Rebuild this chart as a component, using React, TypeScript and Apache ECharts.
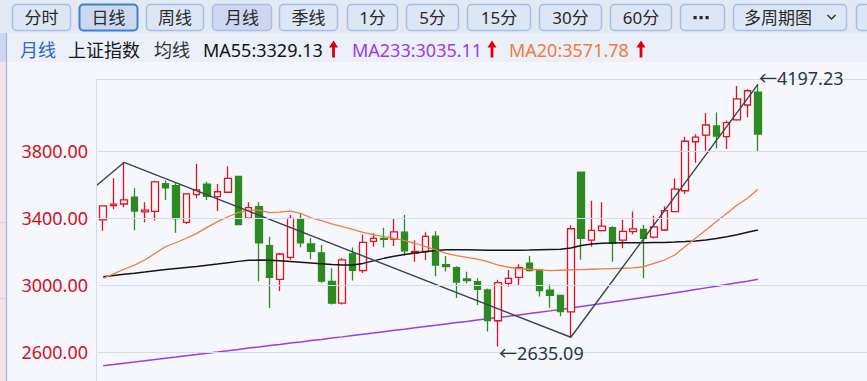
import React, { useEffect, useRef } from 'react';
import * as echarts from 'echarts';

// ---------- data ----------
const months = [
  '2020-12',
  '2021-01','2021-02','2021-03','2021-04','2021-05','2021-06','2021-07','2021-08','2021-09','2021-10','2021-11','2021-12',
  '2022-01','2022-02','2022-03','2022-04','2022-05','2022-06','2022-07','2022-08','2022-09','2022-10','2022-11','2022-12',
  '2023-01','2023-02','2023-03','2023-04','2023-05','2023-06','2023-07','2023-08','2023-09','2023-10','2023-11','2023-12',
  '2024-01','2024-02','2024-03','2024-04','2024-05','2024-06','2024-07','2024-08','2024-09','2024-10','2024-11','2024-12',
  '2025-01','2025-02','2025-03','2025-04','2025-05','2025-06','2025-07','2025-08','2025-09','2025-10','2025-11','2025-12',
  '2026-01','2026-02','2026-03',
];
const opens = [
  3389,
  3474, 3484, 3525, 3437, 3440, 3605, 3593, 3375, 3540, 3603, 3528, 3554,
  3649, 3399, 3468, 3235, 3035, 3166, 3395, 3246, 3193, 3022, 2893, 3186,
  3087, 3261, 3279, 3275, 3316, 3192, 3201, 3292, 3122, 3104, 3037, 3021,
  2972, 2788, 3011, 3047, 3131, 3091, 2971, 2939, 2841, 3674.4, 3269, 3325,
  3343, 3269, 3319, 3333, 3286, 3329, 3438, 3563, 3855, 3895, 3949, 3885,
  3985, 4074, 4150,
];
const closes = [
  3473,
  3483, 3509, 3441.9, 3446.9, 3615.5, 3580, 3397, 3544, 3568, 3530, 3557, 3637,
  3361.4, 3462, 3252, 3047, 3186, 3398.6, 3253, 3202, 3024, 2893, 3151, 3089,
  3255.7, 3279.6, 3272.9, 3318, 3204.6, 3202, 3291, 3119.9, 3110.5, 3018.8, 3027, 2974.9,
  2788.6, 3015.2, 3041.2, 3104.8, 3086.8, 2967.4, 2938.8, 2842.2, 3336.5, 3279.8, 3326.5, 3351.8,
  3250.6, 3320.9, 3335.8, 3279, 3347.5, 3444.4, 3573.2, 3857.9, 3882.8, 3954.8, 3888.6, 3968.8,
  4110, 4159, 3901,
];
const lows = [
  3325,
  3452, 3465, 3328, 3375, 3385, 3508, 3312, 3365, 3518, 3508, 3442, 3550,
  3357, 3393, 3023, 2863.7, 2965, 3152, 3226, 3155, 3015, 2885, 2885, 3028,
  3073, 3229, 3224, 3234, 3177, 3140, 3150, 3053, 3081, 2923.5, 3011, 2882,
  2724, 2635.09, 2991, 3001, 3081, 2933, 2865, 2815, 2689.7, 3152, 3229, 3320,
  3140, 3220, 3303, 3040.7, 3279, 3323, 3435, 3543, 3730, 3802, 3815, 3812,
  3980, 4001, 3796,
];
const highs = [
  3474,
  3637, 3731.69, 3578, 3494, 3622, 3624, 3607, 3550, 3723, 3617, 3603, 3708.9,
  3651, 3494, 3494, 3289, 3194, 3418, 3424, 3280, 3240, 3101, 3160, 3224,
  3300, 3309, 3343, 3399, 3418, 3268, 3315, 3322, 3174, 3113, 3080, 3041,
  2981, 3031, 3090, 3125, 3174.3, 3095, 3006, 2942, 3358, 3674.4, 3504, 3494,
  3352, 3389, 3439, 3361, 3414, 3470, 3636, 3885, 3899, 4025.7, 4030, 3981,
  4187, 4168, 4197.23,
];
const ma20 = [
  3041, 3067, 3095, 3120, 3150, 3190, 3230, 3253, 3280, 3309, 3345, 3379, 3408,
  3432, 3448, 3448, 3432, 3435, 3442, 3428, 3402, 3385, 3365, 3349, 3333,
  3315, 3301, 3289, 3279, 3265, 3250, 3230, 3210, 3190, 3176, 3166, 3156,
  3140, 3120, 3107, 3098, 3095, 3091, 3087, 3089, 3091, 3093, 3095, 3097,
  3099, 3101, 3103, 3110, 3130, 3150, 3180, 3230, 3280, 3329, 3379, 3428,
  3478, 3518, 3571.78,
];
const ma55 = [
  3051, 3058, 3065, 3071, 3078, 3086, 3094, 3100, 3106, 3112, 3119, 3126, 3134,
  3142, 3148, 3150, 3148, 3145, 3141, 3137, 3133, 3128, 3123, 3120, 3121,
  3130, 3145, 3160, 3173, 3183, 3192, 3200, 3207, 3211, 3212, 3211, 3210,
  3209, 3208, 3208, 3209, 3210, 3212, 3213, 3214, 3222, 3236, 3245, 3250,
  3252, 3253, 3253, 3253, 3254, 3255, 3257, 3260, 3264, 3270, 3278, 3289,
  3301, 3315, 3329.13,
];
const ma233 = [
  2520, 2527, 2535, 2542, 2550, 2557, 2565, 2572, 2580, 2587, 2595, 2602, 2610,
  2617, 2625, 2632, 2640, 2647, 2655, 2662, 2670, 2677, 2685, 2692, 2700,
  2708, 2715, 2723, 2731, 2738, 2746, 2754, 2761, 2769, 2777, 2784, 2792,
  2800, 2808, 2815, 2823, 2831, 2839, 2847, 2855, 2864, 2873, 2882, 2891,
  2900, 2909, 2918, 2927, 2936, 2945, 2955, 2964, 2974, 2984, 2994, 3004,
  3014, 3024, 3035.11,
];
const yTicks = [2600, 3000, 3400, 3800];
// hand-drawn trend line: [month index, price]
const trendX = [-0.7, 2, 45, 63];
const trendY = [3591, 3731.69, 2689.7, 4197.23];
const toolbarLabels = ['分时', '日线', '周线', '月线', '季线', '1分', '5分', '15分', '30分', '60分', '', '多周期图'];
const legendMA = [
  { name: 'MA55', value: '3329.13' },
  { name: 'MA233', value: '3035.11' },
  { name: 'MA20', value: '3571.78' },
];

// ---------- style ----------
const FONT = '"Noto Sans", "Noto Sans CJK SC", sans-serif';
const RED = '#e3101d';
const GREEN = '#2d8a21';
const BG = '#f5f7fc';
const EXTRA_SLOTS = 10;
const SLOT = 10.498;

const buttonBoxes = [
  [12, 71], [79, 138], [146, 204], [212, 272], [279, 338], [347, 398], [406, 459],
  [467, 531], [539, 602], [610, 672], [680, 725], [733, 847],
];
const legendX = [203, 352, 509];
const arrowX = [333.5, 492, 641];
const maColors = ['#141414', '#9a3ce6', '#f07c3e'];

function upArrow(cx: number) {
  return {
    type: 'polygon',
    shape: {
      points: [
        [cx - 4.5, 47.5], [cx, 40.5], [cx + 4.5, 47.5], [cx + 1.4, 47.5],
        [cx + 1.4, 57.5], [cx - 1.4, 57.5], [cx - 1.4, 47.5],
      ],
    },
    style: { fill: '#d9000d' },
    silent: true,
  };
}

export default function App() {
  const ref = useRef<HTMLDivElement>(null);
  useEffect(() => {
    if (!ref.current) return;
    const chart = echarts.init(ref.current, undefined, { renderer: 'svg' });
    const candleData = months.map((_, i) => [opens[i], closes[i], lows[i], highs[i]]);
    const cats = months.concat(Array.from({ length: EXTRA_SLOTS }, () => ''));
    let maxI = 0, minI = 0;
    highs.forEach((h, i) => { if (h > highs[maxI]) maxI = i; });
    lows.forEach((l, i) => { if (l < lows[minI]) minI = i; });

    const graphics: any[] = [];
    graphics.push({ type: 'rect', shape: { x: 0, y: 0, width: 867, height: 33 }, style: { fill: '#e3e9f3' }, silent: true });
    graphics.push({ type: 'rect', shape: { x: 0, y: 33, width: 867, height: 29 }, style: { fill: '#eaeff8' }, silent: true });
    // left strip
    graphics.push({ type: 'rect', shape: { x: 0, y: 62, width: 6, height: 319 }, style: { fill: '#f5e1e6' }, silent: true });
    graphics.push({ type: 'rect', shape: { x: 0, y: 33, width: 6, height: 29 }, style: { fill: '#cdd6ea' }, silent: true });
    graphics.push({ type: 'line', shape: { x1: 0, y1: 222.5, x2: 6, y2: 222.5 }, style: { stroke: '#c8d4ee', lineWidth: 1 }, silent: true });
    graphics.push({ type: 'line', shape: { x1: 0, y1: 298.5, x2: 6, y2: 298.5 }, style: { stroke: '#c8d4ee', lineWidth: 1 }, silent: true });
    graphics.push({ type: 'line', shape: { x1: 6.5, y1: 33, x2: 6.5, y2: 381 }, style: { stroke: '#9bb8e6', lineWidth: 1.2 }, silent: true });
    // plot borders
    graphics.push({ type: 'line', shape: { x1: 96, y1: 79.5, x2: 867, y2: 79.5 }, style: { stroke: '#d3dcec', lineWidth: 1 }, silent: true });
    graphics.push({ type: 'line', shape: { x1: 96.5, y1: 79, x2: 96.5, y2: 381 }, style: { stroke: '#d3dcec', lineWidth: 1 }, silent: true });

    // toolbar buttons
    buttonBoxes.forEach(([x0, x1], i) => {
      const selected = i === 1;
      const monthly = i === 3;
      graphics.push({
        type: 'rect',
        shape: { x: x0 + 0.5, y: 4.5, width: x1 - x0 - 1, height: 26, r: 4 },
        style: {
          fill: selected ? '#cbd9f0' : monthly ? '#cfd6f1' : '#dde6f5',
          stroke: selected ? '#3f80d6' : '#a6bfe5',
          lineWidth: selected ? 2 : 1.5,
        },
        silent: true,
      });
      const label = toolbarLabels[i];
      if (label) {
        graphics.push({
          type: 'text',
          x: i === 11 ? x0 + 45 : (x0 + x1) / 2,
          y: 17.5,
          style: { text: label, fill: '#2a2a2a', font: `17px ${FONT}`, align: 'center', verticalAlign: 'middle' },
          silent: true,
        });
      }
    });
    // "more" dots
    [695, 701, 707].forEach((x) => {
      graphics.push({ type: 'rect', shape: { x: x - 1.5, y: 16, width: 3.2, height: 3.2 }, style: { fill: '#2a2a2a' }, silent: true });
    });
    // dropdown chevron
    graphics.push({ type: 'polyline', shape: { points: [[827.5, 15], [831.5, 19], [835.5, 15]] }, style: { stroke: '#333', lineWidth: 1.5, fill: null }, silent: true });
    // partial button on the right edge
    graphics.push({ type: 'rect', shape: { x: 856.5, y: 4.5, width: 30, height: 26, r: 4 }, style: { fill: '#dde6f5', stroke: '#a6bfe5', lineWidth: 1.5 }, silent: true });

    // legend row
    const lt = (text: string, x: number, color: string) => ({
      type: 'text', x, y: 49.5,
      style: { text, fill: color, font: `18px ${FONT}`, align: 'left', verticalAlign: 'middle' },
      silent: true,
    });
    graphics.push(lt('月线', 20, '#2c68c9'));
    graphics.push(lt('上证指数', 68, '#1a1a1a'));
    graphics.push(lt('均线', 154, '#333333'));
    legendMA.forEach((m, i) => {
      graphics.push(lt(`${m.name}:${m.value}`, legendX[i], maColors[i]));
      graphics.push(upArrow(arrowX[i]));
    });

    const option: any = {
      animation: false,
      backgroundColor: BG,
      grid: { left: 98, top: 79, width: SLOT * cats.length, height: 302, containLabel: false },
      xAxis: [
        { type: 'category', data: cats, show: false, boundaryGap: true },
        { type: 'value', min: -0.5, max: cats.length - 0.5, show: false },
      ],
      yAxis: { type: 'value', min: 2429, max: 4229, show: false, splitLine: { show: false }, scale: true },
      graphic: graphics,
      series: [
        {
          name: 'MA233', type: 'line', data: ma233, symbol: 'none', z: 1,
          lineStyle: { color: maColors[1], width: 1.5 },
          markLine: {
            silent: true, symbol: ['none', 'none'], animation: false,
            lineStyle: { color: '#d5def0', width: 1, type: 'solid' },
            label: {
              show: true, position: 'start', distance: 10,
              formatter: (p: any) => Number(p.value).toFixed(2),
              color: '#d3101c', fontSize: 18, fontFamily: FONT,
            },
            data: yTicks.map((v) => ({ yAxis: v })),
          },
        },
        {
          name: 'K', type: 'candlestick', data: candleData, barWidth: 7, z: 2,
          itemStyle: { color: BG, color0: GREEN, borderColor: RED, borderColor0: GREEN, borderWidth: 1.3 },
          markPoint: {
            symbol: 'circle', symbolSize: 0, silent: true, animation: false,
            label: { show: true, position: 'right', distance: 1, color: '#2b3445', fontSize: 18, fontFamily: FONT },
            data: [
              { coord: [maxI, highs[maxI]], value: highs[maxI], label: { formatter: '←' + highs[maxI].toFixed(2), offset: [0, -6] } },
              { coord: [minI, lows[minI]], value: lows[minI], label: { formatter: '←' + lows[minI].toFixed(2), offset: [0, 7] } },
            ],
          },
        },
        { name: 'MA55', type: 'line', data: ma55, symbol: 'none', z: 3, lineStyle: { color: maColors[0], width: 1.5 } },
        { name: 'MA20', type: 'line', data: ma20, symbol: 'none', z: 3, lineStyle: { color: maColors[2], width: 1.3 } },
        {
          name: 'trend', type: 'line', xAxisIndex: 1, clip: false, symbol: 'none', z: 4,
          data: trendX.map((x, i) => [x, trendY[i]]),
          lineStyle: { color: '#3b4352', width: 1.4 },
        },
      ],
    };
    chart.setOption(option);
    return () => chart.dispose();
  }, []);
  return (
    <div
      ref={ref}
      style={{ position: 'fixed', left: 0, top: 0, width: 867, height: 381, overflow: 'hidden' }}
    />
  );
}
